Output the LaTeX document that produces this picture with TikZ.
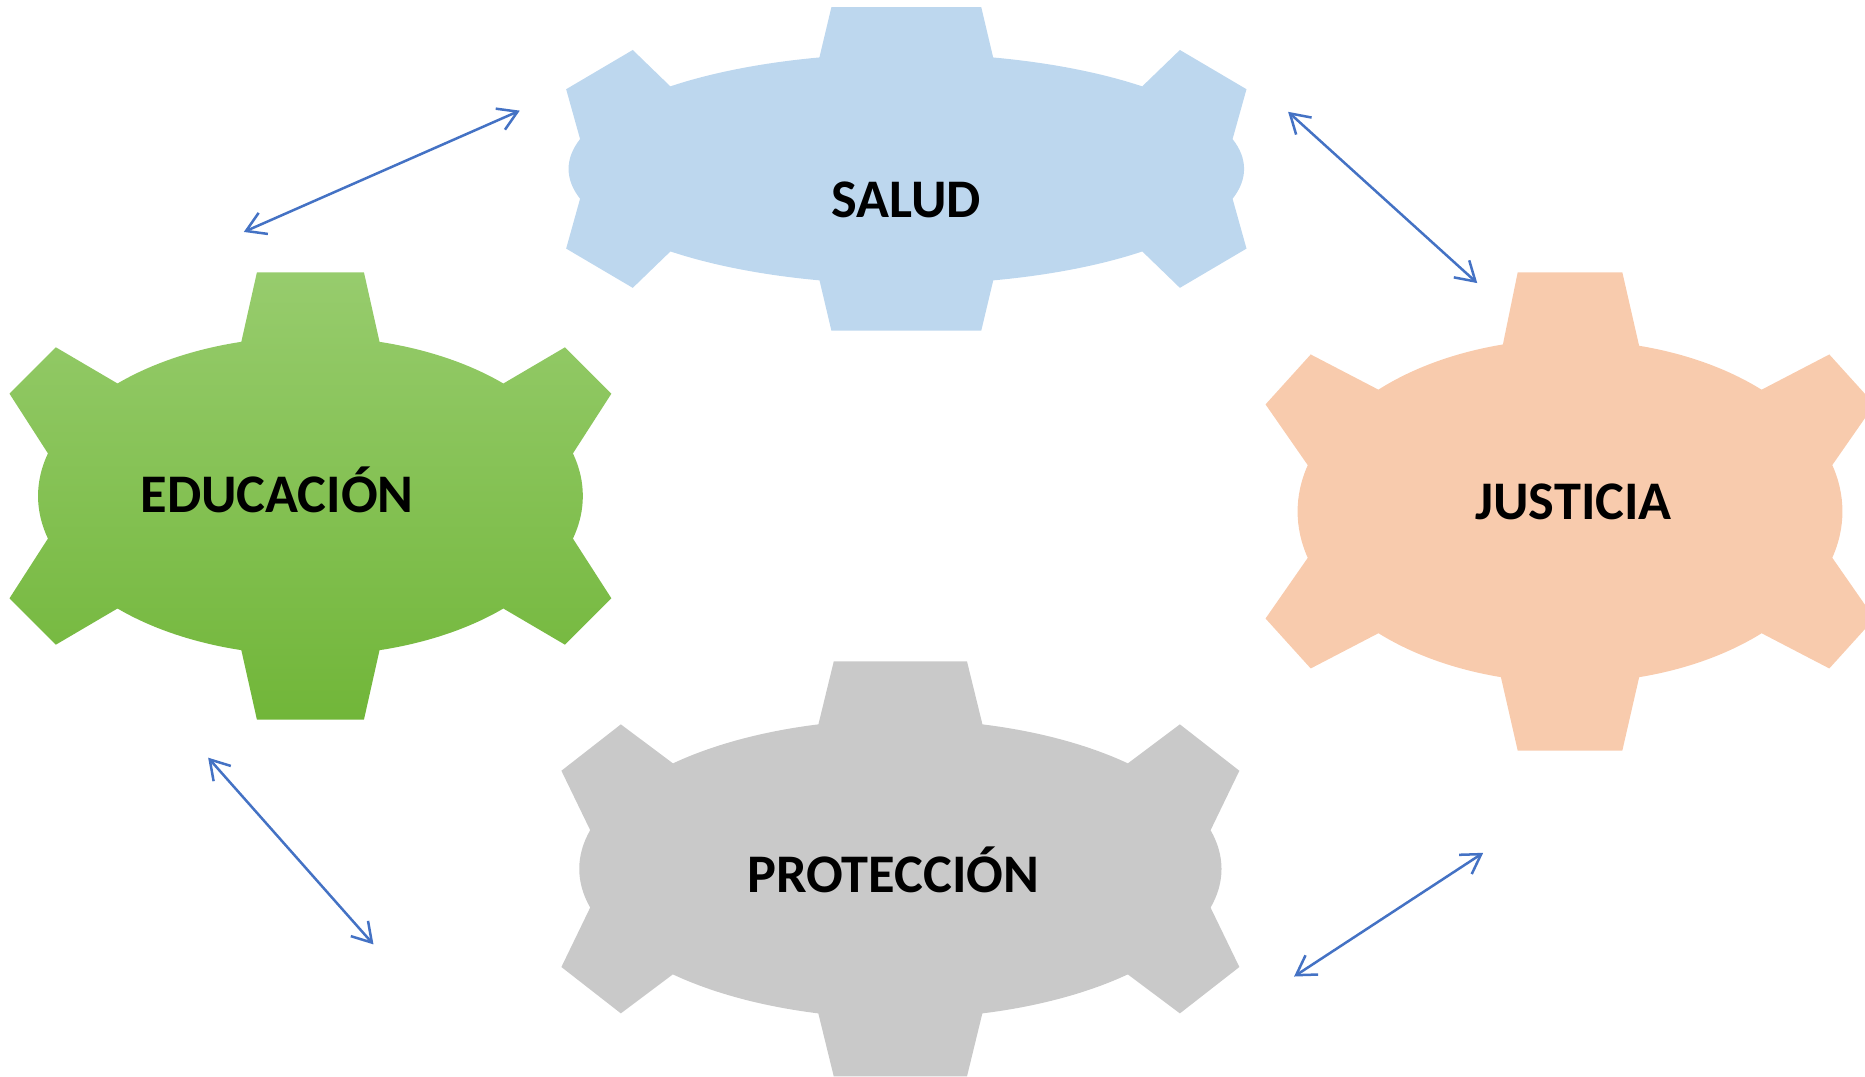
\documentclass[tikz,border=0pt]{standalone}
\usepackage{fontspec}
\setmainfont{Carlito}
\usetikzlibrary{arrows.meta}

\definecolor{saludblue}{HTML}{BDD7EE}
\definecolor{justpeach}{HTML}{F8CBAD}
\definecolor{protgray}{HTML}{C9C9C9}
\definecolor{edutop}{HTML}{97CC6D}
\definecolor{edubot}{HTML}{71B639}
\definecolor{linkblue}{HTML}{4472C4}

\begin{document}
\begin{tikzpicture}[x=0.01cm, y=-0.01cm, >={Straight Barb[length=4.5pt, width=5.5pt]},
  lbl/.style={font=\bfseries\fontsize{13}{15}\selectfont, anchor=base, inner sep=0pt},
  link/.style={<->, draw=linkblue, line width=0.6pt}]

\clip (0,0) rectangle (1568,905);

% SALUD
\begin{scope}[shift={(762,142)}]
\fill[saludblue] (-63,-136) -- (63,-136) -- (73,-93.7)
  arc[start angle=-75.1, end angle=-45.7, x radius=284, y radius=97]
  -- (230,-100) -- (286,-67) -- (274.3,-25.1)
  arc[start angle=-15, end angle=15, x radius=284, y radius=97]
  -- (286,67) -- (230,100) -- (198.4,69.4)
  arc[start angle=45.7, end angle=75.1, x radius=284, y radius=97]
  -- (63,136) -- (-63,136) -- (-73,93.7)
  arc[start angle=104.9, end angle=134.3, x radius=284, y radius=97]
  -- (-230,100) -- (-286,67) -- (-274.3,25.1)
  arc[start angle=165, end angle=195, x radius=284, y radius=97]
  -- (-286,-67) -- (-230,-100) -- (-198.4,-69.4)
  arc[start angle=225.7, end angle=255.1, x radius=284, y radius=97]
  -- cycle;
\end{scope}

% EDUCACION
\begin{scope}[shift={(261,417)}]
\shade[top color=edutop, bottom color=edubot] (-45,-188) -- (45,-188) -- (58.1,-129.6)
  arc[start angle=-75.3, end angle=-44.9, x radius=229, y radius=134]
  -- (214,-125) -- (253,-86) -- (220.7,-35.8)
  arc[start angle=-15.5, end angle=15.5, x radius=229, y radius=134]
  -- (253,86) -- (214,125) -- (162.2,94.6)
  arc[start angle=44.9, end angle=75.3, x radius=229, y radius=134]
  -- (45,188) -- (-45,188) -- (-58.1,129.6)
  arc[start angle=104.7, end angle=135.1, x radius=229, y radius=134]
  -- (-214,125) -- (-253,86) -- (-220.7,35.8)
  arc[start angle=164.5, end angle=195.5, x radius=229, y radius=134]
  -- (-253,-86) -- (-214,-125) -- (-162.2,-94.6)
  arc[start angle=224.9, end angle=255.3, x radius=229, y radius=134]
  -- cycle;
\end{scope}

% JUSTICIA
\begin{scope}[shift={(1320,430)}]
\fill[justpeach] (-44,-201) -- (44,-201) -- (58.1,-139.3)
  arc[start angle=-75.3, end angle=-45.3, x radius=229, y radius=144]
  -- (218,-132) -- (256,-90) -- (220.5,-39)
  arc[start angle=-15.7, end angle=15.7, x radius=229, y radius=144]
  -- (256,90) -- (218,132) -- (161.1,102.4)
  arc[start angle=45.3, end angle=75.3, x radius=229, y radius=144]
  -- (44,201) -- (-44,201) -- (-58.1,139.3)
  arc[start angle=104.7, end angle=134.7, x radius=229, y radius=144]
  -- (-218,132) -- (-256,90) -- (-220.5,39)
  arc[start angle=164.3, end angle=195.7, x radius=229, y radius=144]
  -- (-256,-90) -- (-218,-132) -- (-161.1,-102.4)
  arc[start angle=224.7, end angle=255.3, x radius=229, y radius=144]
  -- cycle;
\end{scope}

% PROTECCION
\begin{scope}[shift={(757,730.5)}]
\fill[protgray] (-56,-174.5) -- (56,-174.5) -- (69,-121.5)
  arc[start angle=-75.2, end angle=-44.9, x radius=270, y radius=125.7]
  -- (235,-121.5) -- (285,-82.5) -- (260.8,-32.5)
  arc[start angle=-15, end angle=15, x radius=270, y radius=125.7]
  -- (285,82.5) -- (235,121.5) -- (191.2,88.7)
  arc[start angle=44.9, end angle=75.2, x radius=270, y radius=125.7]
  -- (56,174.5) -- (-56,174.5) -- (-69,121.5)
  arc[start angle=104.8, end angle=135.1, x radius=270, y radius=125.7]
  -- (-235,121.5) -- (-285,82.5) -- (-260.8,32.5)
  arc[start angle=165, end angle=195, x radius=270, y radius=125.7]
  -- (-285,-82.5) -- (-235,-121.5) -- (-191.2,-88.7)
  arc[start angle=224.9, end angle=255.2, x radius=270, y radius=125.7]
  -- cycle;
\end{scope}

\node[lbl] (salud) at (762,182.5) {SALUD};
\node[lbl] (educacion) at (233,430.5) {EDUCACIÓN};
\node[lbl] (justicia) at (1323,437) {JUSTICIA};
\node[lbl] (proteccion) at (751,750) {PROTECCIÓN};

% arrow ends
\coordinate (eduNE) at (205,195);
\coordinate (salW) at (437,93);
\coordinate (salE) at (1083,94);
\coordinate (jusN) at (1242,238);
\coordinate (eduS) at (175,637);
\coordinate (proW) at (314,794);
\coordinate (proE) at (1088,821);
\coordinate (jusS) at (1247,717);

\draw[link] (eduNE) -- (salW);
\draw[link] (salE) -- (jusN);
\draw[link] (eduS) -- (proW);
\draw[link] (proE) -- (jusS);

\end{tikzpicture}
\end{document}
